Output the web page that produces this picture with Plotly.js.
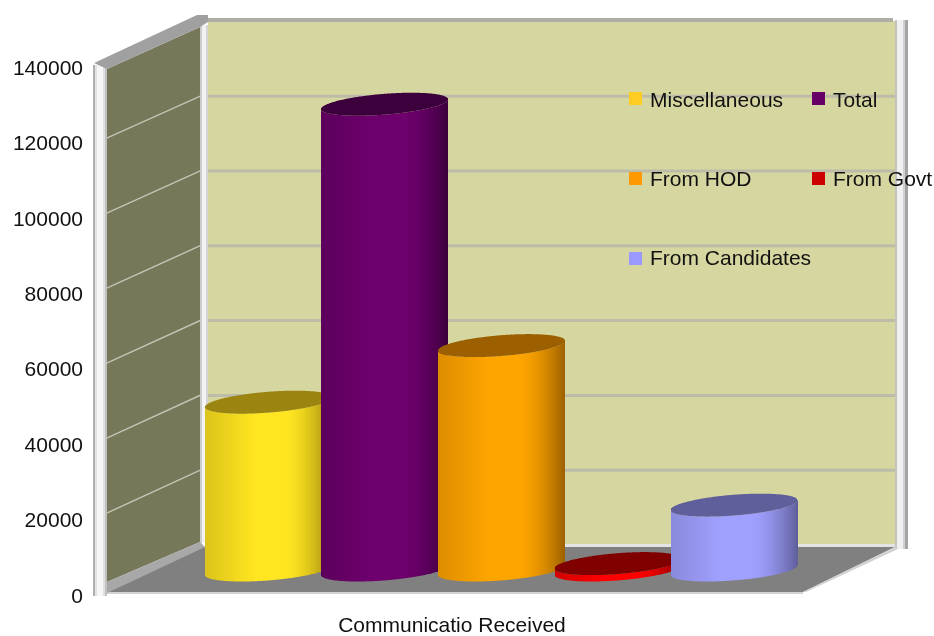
<!DOCTYPE html>
<html>
<head>
<meta charset="utf-8">
<script src="https://cdn.plot.ly/plotly-3.0.1.min.js"></script>
<style>html,body{margin:0;padding:0;background:#fff}#chart{width:934px;height:636px;filter:blur(0.45px)}</style>
</head>
<body>
<div id="chart"></div>
<script>
// ---- data ----
const categories = ["Miscellaneous", "Total", "From HOD", "From Govt", "From Candidates"];
const values = [44500, 123500, 59500, 1700, 17200];
const tickVals = [0, 20000, 40000, 60000, 80000, 100000, 120000, 140000];
const axisTitle = "Communicatio Received";

// ---- colours ----
const bodyColors = [[255,230,32],[110,0,110],[255,165,0],[255,0,0],[160,160,255]];
const capColors  = [[155,133,16],[60,0,60],[156,96,0],[128,0,0],[95,95,155]];
const keyColors  = ["#ffcc22","#660066","#ff9900","#cc0000","#9999ff"];

// ---- layout geometry (page pixels, which map 1:1 to x units) ----
const W = 904, PAGE_H = 636, TOP = 5, BOTTOM = 605, ZERO = 595.3, FULL = 67.3;
const K = 140000 / (ZERO - FULL);
const Y = px => (ZERO - px) * K;
const centers = [268.5, 384.5, 501.5, 618, 734];
const halfW = 63.5, dxE = 27, dyE = 11.5, baseCenterPx = 570;
const R = halfW, PHI = Math.asin(dxE / R);

const rgb = c => `rgb(${c.map(Math.round).join(",")})`;
const mix = (a, b, t) => a.map((v, i) => v + (b[i] - v) * t);
function shade(t) {
  if (t < 0.4) return 0.35 * (1 - t / 0.4);
  if (t > 0.62) return Math.pow((t - 0.62) / 0.38, 1.7);
  return 0;
}

const traces = [];
categories.forEach((name, i) => {
  const xs = [], low = [], up = [], col = [];
  for (let p = Math.ceil(centers[i] - halfW); p < centers[i] + halfW; p++) {
    const x = p + 0.5, u = Math.max(-1, Math.min(1, (x - centers[i]) / R)), ang = Math.acos(u);
    const s1 = Math.sin(PHI + ang), s2 = Math.sin(PHI - ang);
    xs.push(x);
    up.push(Math.max(s1, s2) * dyE * K);
    low.push(Math.min(s1, s2) * dyE * K);
    col.push((x - centers[i] + halfW) / (2 * halfW));
  }
  const b0 = Y(baseCenterPx), v = values[i];
  traces.push({
    type: "bar", name, x: xs, width: 1,
    y: xs.map(() => v),
    base: low.map(l => b0 + l),
    marker: { color: col.map(t => rgb(mix(bodyColors[i], capColors[i], shade(t)))), line: { width: 0 } },
    hoverinfo: "name"
  });
  traces.push({
    type: "bar", name, x: xs, width: 1,
    y: xs.map((_, j) => up[j] - low[j]),
    base: low.map(l => b0 + v + l),
    marker: { color: rgb(capColors[i]), line: { width: 0 } },
    hoverinfo: "name"
  });
});

// ---- chart box decoration ----
const poly = (pts, fill, layer) => ({
  type: "path", xref: "x", yref: "y", layer: layer || "below", fillcolor: fill, line: { width: 0 },
  path: "M" + pts.map(p => p[0] + "," + Y(p[1])).join("L") + "Z"
});
const strip = (x0, x1, y0, y1, fill) => ({
  type: "rect", xref: "paper", yref: "y", layer: "below", fillcolor: fill, line: { width: 0 },
  x0: x0 / W, x1: x1 / W, y0: Y(y0), y1: Y(y1)
});
const shapes = [];
shapes.push(strip(208, 895, 21, 546, "#d6d6a0"));                // back wall
shapes.push(strip(205, 893, 18, 22, "#aeaea6"));                 // top rim
tickVals.slice(1, 7).forEach(v => {
  const py = 545 - v * 3.74 / 1000;
  shapes.push(strip(208, 895, py - 1.5, py + 1.5, "#bcbca8"));
});
shapes.push(poly([[107,592],[803,592],[895,547],[200,547]], "#808080"));  // floor
shapes.push(strip(107, 803, 591, 594, "#d2d2d2"));
shapes.push(poly([[803,592],[806,592],[898,549],[895,547]], "#d2d2d2"));
shapes.push(strip(205, 895, 544, 547, "#e4e4e4"));
shapes.push(poly([[107,69],[200,27],[200,542],[107,582]], "#77775a")); // left wall
tickVals.slice(1, 7).forEach(v => {
  const a = 588 - v * 3.75 / 1000, b = 545 - v * 3.74 / 1000;
  shapes.push(poly([[107,a-0.8],[200,b-0.8],[200,b+0.8],[107,a+0.8]], "#c4c4b4"));
});
shapes.push(poly([[107,582],[200,542],[205,547],[107,593]], "#a8a8a8")); // left wall foot
shapes.push(poly([[94,63],[197,15],[208,15],[208,22],[200,27],[107,69]], "#a0a0a0")); // wall cap
[[200,202,"#cccccc"],[202,206,"#f2f2f2"],[206,208,"#d4d4d4"]].forEach(s => shapes.push(strip(s[0], s[1], 25, 543, s[2])));
[[895,897,"#c4c4bc"],[897,903,"#f0f0f0"],[903,905,"#d0d0d0"],[905,908,"#a4a4a4"]].forEach(s => shapes.push(strip(s[0], s[1], 20, 549, s[2])));
[[93,95,"#b0b0b0"],[95,97,"#e2e2e2"],[97,103,"#f6f6f6"],[103,105,"#e0e0e0"],[105,107,"#c0c0c0"]].forEach(s => shapes.push(strip(s[0], s[1], 65, 596, s[2])));

// ---- legend ----
const keyX = [629, 812, 629, 812, 629], keyY = [92, 92, 172, 172, 252], textY = [99, 99, 178, 178, 257.5];
const annotations = [];
categories.forEach((name, i) => {
  shapes.push({ type: "rect", xref: "x", yref: "y", layer: "above", fillcolor: keyColors[i], line: { width: 0 },
    x0: keyX[i], x1: keyX[i] + 13, y0: Y(keyY[i]), y1: Y(keyY[i] + 13) });
  annotations.push({ xref: "x", yref: "y", x: keyX[i] + 19, y: Y(textY[i]), xanchor: "left", yanchor: "middle",
    text: name, showarrow: false, font: { size: 21, color: "#111" } });
});

const layout = {
  width: 934, height: PAGE_H,
  margin: { l: 0, r: 934 - W, t: TOP, b: PAGE_H - BOTTOM, pad: 0 },
  paper_bgcolor: "#fff", plot_bgcolor: "#fff",
  barmode: "overlay", showlegend: false,
  font: { family: "Liberation Sans, Arial, sans-serif", size: 21, color: "#111" },
  xaxis: { range: [0, W], showticklabels: false, showgrid: false, zeroline: false, showline: false, ticks: "",
    fixedrange: true, title: { text: axisTitle, font: { size: 21, color: "#111" }, standoff: 15 } },
  yaxis: { range: [Y(BOTTOM), Y(TOP)], anchor: "free", position: 83 / W, tickmode: "array", tickvals: tickVals,
    ticktext: tickVals.map(String), showgrid: false, zeroline: false, showline: false, ticks: "", fixedrange: true,
    tickfont: { size: 21, color: "#111" } },
  shapes, annotations
};
Plotly.newPlot("chart", traces, layout, { displayModeBar: false, staticPlot: true });
</script>
</body>
</html>
